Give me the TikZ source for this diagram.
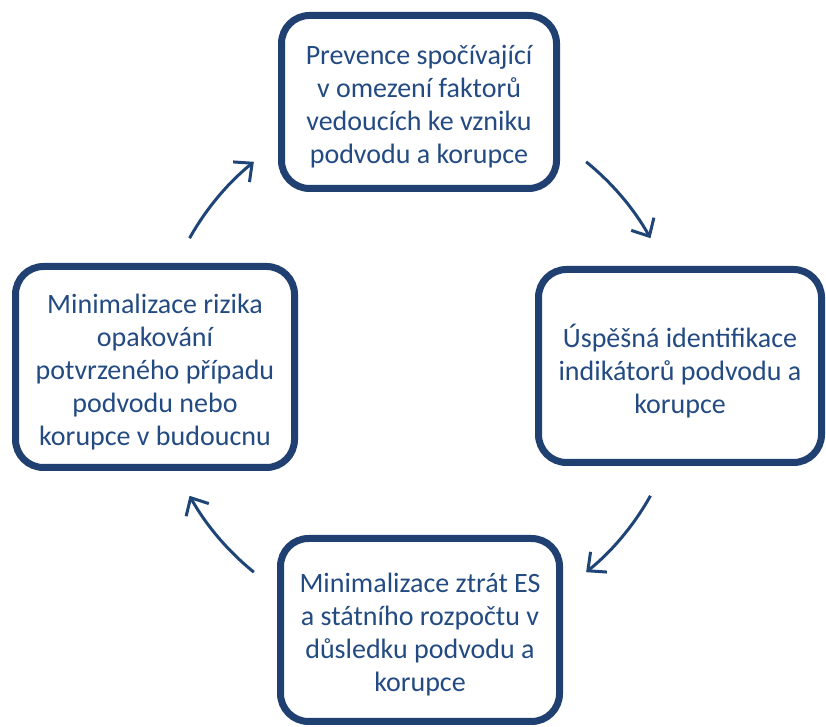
\documentclass[tikz,border=0pt]{standalone}
\usepackage{fontspec}
\setmainfont{Carlito}
\usetikzlibrary{arrows.meta,shadows}
\definecolor{boxborder}{RGB}{31,64,112}
\definecolor{boxtext}{RGB}{35,75,130}
\definecolor{arrowcol}{RGB}{31,68,118}
\tikzset{
  cyclebox/.style={draw=boxborder, line width=7pt, fill=white, rounded corners=28pt,
    inner sep=0pt,
    drop shadow={shadow xshift=2pt, shadow yshift=-3pt, opacity=0.25, fill=black!60}},
  boxlabel/.style={align=center, text=boxtext, inner sep=0pt, yshift=-5pt,
    font=\fontsize{28}{33}\selectfont},
  cyclearrow/.style={draw=arrowcol, line width=3pt,
    -{Straight Barb[length=14pt,width=26pt,line width=3pt]}}
}
\begin{document}
\begin{tikzpicture}[x=1pt,y=1pt]
\useasboundingbox (0,0) rectangle (826,727);
\coordinate (c) at (420,360);
\node[cyclebox, minimum width=275pt, minimum height=173pt,
  label={[boxlabel]center:{Prevence spočívající\\v omezení faktorů\\vedoucích ke vzniku\\podvodu a korupce}}] (top) at (419,625) {};
\node[cyclebox, minimum width=283pt, minimum height=193pt,
  label={[boxlabel]center:{Úspěšná identifikace\\indikátorů podvodu a\\korupce}}] (right) at (680,361) {};
\node[cyclebox, minimum width=279pt, minimum height=201pt,
  label={[boxlabel]center:{Minimalizace rizika\\opakování\\potvrzeného případu\\podvodu nebo\\korupce v budoucnu}}] (left) at (155,360) {};
\node[cyclebox, minimum width=279pt, minimum height=183pt,
  label={[boxlabel]center:{Minimalizace ztrát ES\\a státního rozpočtu v\\důsledku podvodu a\\korupce}}] (bottom) at (420,97) {};
\draw[cyclearrow] ([shift={(51:264)}]c) arc[start angle=51, end angle=29.2, radius=264];
\draw[cyclearrow] ([shift={(-29.2:264)}]c) arc[start angle=-29.2, end angle=-51, radius=264];
\draw[cyclearrow] ([shift={(-129:264)}]c) arc[start angle=-129, end angle=-150.8, radius=264];
\draw[cyclearrow] ([shift={(150.8:264)}]c) arc[start angle=150.8, end angle=129, radius=264];
\end{tikzpicture}
\end{document}
